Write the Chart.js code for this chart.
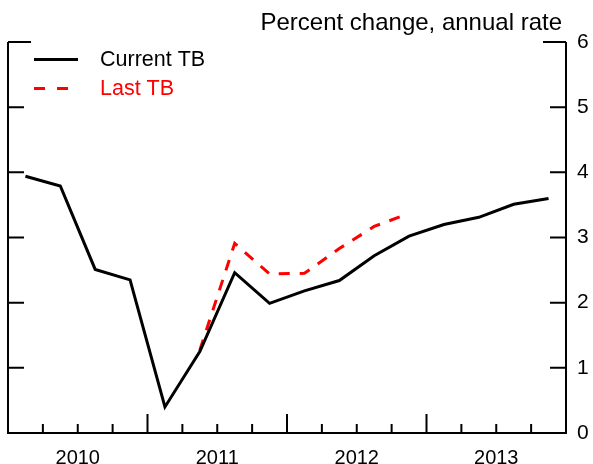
<!DOCTYPE html>
<html>
<head>
<meta charset="utf-8">
<script src="https://cdn.jsdelivr.net/npm/chart.js@4"></script>
<style>
  html, body { margin: 0; padding: 0; background: #fff; }
  #wrap { width: 593px; height: 464px; position: relative; }
</style>
</head>
<body>
<div id="wrap"><canvas id="c" width="593" height="464"></canvas></div>
<script>
// Quarterly periods 2010Q1 .. 2013Q4
const quarters = ["2010Q1","2010Q2","2010Q3","2010Q4","2011Q1","2011Q2","2011Q3","2011Q4",
                  "2012Q1","2012Q2","2012Q3","2012Q4","2013Q1","2013Q2","2013Q3","2013Q4"];
const years = ["2010","2011","2012","2013"];
const currentTB = [3.94, 3.79, 2.51, 2.35, 0.40, 1.25, 2.46, 1.99, 2.18, 2.34, 2.72, 3.02, 3.20, 3.31, 3.51, 3.60];
const lastTB    = [null, null, null, null, null, 1.27, 2.91, 2.44, 2.45, 2.83, 3.17, 3.37, null, null, null, null];
const yTicks = [0, 1, 2, 3, 4, 5, 6];
const titleText = "Percent change, annual rate";
const legendNames = ["Current TB", "Last TB"];

const FONT = "'Liberation Sans', Arial, Helvetica, sans-serif";

const toPoints = arr => arr.map((v, i) => ({ x: i + 0.5, y: v }));

const framePlugin = {
  id: 'frame',
  afterDraw(chart) {
    const ctx = chart.ctx;
    const xs = chart.scales.x, ys = chart.scales.y;
    const L = xs.getPixelForValue(0), R = xs.getPixelForValue(quarters.length);
    const T = ys.getPixelForValue(6), B = ys.getPixelForValue(0);
    ctx.save();
    ctx.strokeStyle = '#000';
    ctx.lineWidth = 2;
    ctx.lineCap = 'butt';
    ctx.beginPath();
    // left, bottom, right axes
    ctx.moveTo(L, T); ctx.lineTo(L, B); ctx.lineTo(R, B); ctx.lineTo(R, T);
    // y ticks on both sides
    yTicks.forEach(v => {
      if (v === 0) return;
      const y = ys.getPixelForValue(v);
      const len = v === 6 ? 23 : 16;
      ctx.moveTo(L, y); ctx.lineTo(L + len, y);
      ctx.moveTo(R, y); ctx.lineTo(R - len, y);
    });
    // x ticks at quarter boundaries
    for (let q = 1; q < quarters.length; q++) {
      const x = xs.getPixelForValue(q);
      const len = q % 4 === 0 ? 19 : 9;
      ctx.moveTo(x, B); ctx.lineTo(x, B - len);
    }
    ctx.stroke();

    // title
    ctx.fillStyle = '#000';
    ctx.font = "24px " + FONT;
    ctx.textAlign = 'right';
    ctx.textBaseline = 'middle';
    ctx.fillText(titleText, 562, 23);

    // legend
    ctx.textAlign = 'left';
    ctx.font = "21.5px " + FONT;
    ctx.lineWidth = 3;
    ctx.strokeStyle = '#000';
    ctx.setLineDash([]);
    ctx.beginPath(); ctx.moveTo(34, 59.5); ctx.lineTo(78, 59.5); ctx.stroke();
    ctx.fillStyle = '#000';
    ctx.fillText(legendNames[0], 100, 60);
    ctx.strokeStyle = '#ff0000';
    ctx.setLineDash([11, 12]);
    ctx.beginPath(); ctx.moveTo(34, 88.5); ctx.lineTo(69, 88.5); ctx.stroke();
    ctx.setLineDash([]);
    ctx.fillStyle = '#ff0000';
    ctx.fillText(legendNames[1], 100, 89);
    ctx.restore();
  }
};

new Chart(document.getElementById('c'), {
  type: 'line',
  data: {
    datasets: [
      {
        label: legendNames[0],
        data: toPoints(currentTB),
        borderColor: '#000',
        borderWidth: 3,
        pointRadius: 0,
        tension: 0,
        fill: false
      },
      {
        label: legendNames[1],
        data: toPoints(lastTB),
        borderColor: '#ff0000',
        borderWidth: 3,
        borderDash: [11, 10],
        pointRadius: 0,
        tension: 0,
        fill: false,
        spanGaps: false
      }
    ]
  },
  options: {
    responsive: false,
    animation: false,
    layout: { padding: { left: 8, top: 42, right: 0, bottom: 0 } },
    plugins: { legend: { display: false }, title: { display: false }, tooltip: { enabled: false } },
    scales: {
      x: {
        type: 'linear',
        min: 0,
        max: quarters.length,
        grid: { display: false },
        border: { display: false },
        afterBuildTicks: scale => { scale.ticks = years.map((y, i) => ({ value: 2 + 4 * i })); },
        afterFit: scale => { scale.height = 31; },
        ticks: {
          autoSkip: false,
          maxRotation: 0,
          padding: 5,
          color: '#000',
          font: { family: FONT, size: 20 },
          callback: (v, i) => years[i]
        }
      },
      y: {
        position: 'right',
        min: 0,
        max: 6,
        grid: { display: false, drawTicks: false },
        border: { display: false },
        afterFit: scale => { scale.width = 27; },
        ticks: {
          stepSize: 1,
          padding: 11,
          color: '#000',
          font: { family: FONT, size: 21 }
        }
      }
    }
  },
  plugins: [framePlugin]
});
</script>
</body>
</html>
